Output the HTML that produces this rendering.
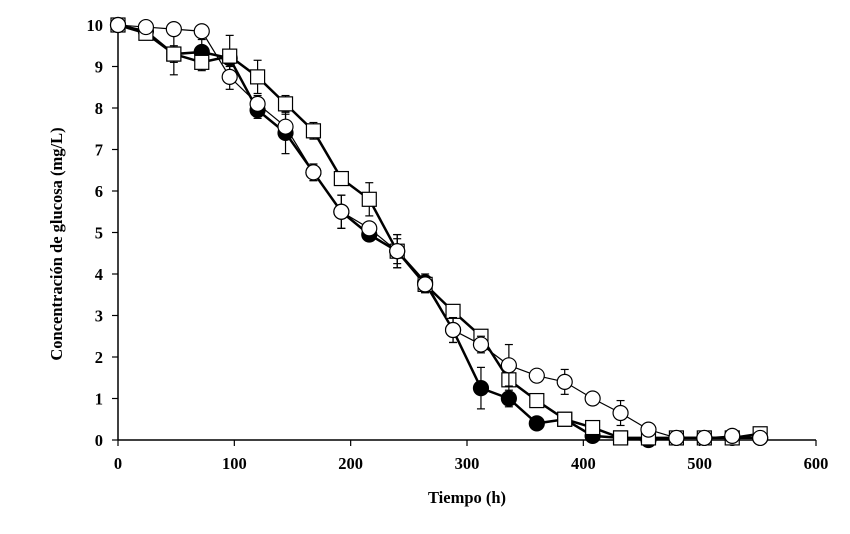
<!DOCTYPE html>
<html><head><meta charset="utf-8"><style>
body{margin:0;background:#fff}
svg text{font-family:"Liberation Serif",serif;font-weight:bold;font-size:16.5px;fill:#000}
</style></head><body>
<svg id="c" width="850" height="529"></svg>
<script>
const times=[0,24,48,72,96,120,144,168,192,216,240,264,288,312,336,360,384,408,432,456,480,504,528,552];
const filledCircle=[10,9.85,9.3,9.35,9.2,7.95,7.4,6.45,5.5,4.95,4.55,3.8,2.65,1.25,1.0,0.4,0.5,0.1,0.05,0.0,0.05,0.05,0.05,0.05];
const filledShapes=['c','c','s','c','c','c','c','c','c','c','c','c','c','c','c','c','s','c','s','c','c','c','c','c'];
const openCircle=[10,9.95,9.9,9.85,8.75,8.1,7.55,6.45,5.5,5.1,4.55,3.75,2.65,2.3,1.8,1.55,1.4,1.0,0.65,0.25,0.05,0.05,0.1,0.05];
const openSquare=[10,9.8,9.3,9.1,9.25,8.75,8.1,7.45,6.3,5.8,4.55,3.75,3.1,2.5,1.45,0.95,0.5,0.3,0.05,0.05,0.05,0.05,0.05,0.15];
const errFilled=[0,0.1,0.5,0.3,0.2,0.2,0.5,0.2,0.4,0.1,0.4,0.2,0.3,0.5,0.2,0.1,0.1,0.1,0.05,0.05,0,0,0,0];
const errOpenCircle=[0,0.1,0.1,0.1,0.3,0.2,0.3,0.2,0.4,0.1,0.3,0.2,0.3,0.2,0.5,0.1,0.3,0.1,0.3,0.1,0,0,0,0];
const errOpenSquare=[0,0.1,0.2,0.2,0.5,0.4,0.2,0.2,0.1,0.4,0.4,0.2,0.1,0.1,0.3,0.1,0.1,0.1,0,0,0,0,0,0];
const xTicks=[0,100,200,300,400,500,600];
const yTicks=[0,1,2,3,4,5,6,7,8,9,10];
const X=v=>118+v*(816-118)/600, Y=v=>440-v*41.5;
const s=document.getElementById('c'),NS='http://www.w3.org/2000/svg';
function el(t,a,p){const e=document.createElementNS(NS,t);for(const k in a)e.setAttribute(k,a[k]);(p||s).appendChild(e);return e;}
let e;
e=el('line',{x1:118,y1:440,x2:816,y2:440,stroke:'#000','stroke-width':1.5});


e=el('line',{x1:118,y1:25,x2:118,y2:440,stroke:'#000','stroke-width':1.5});


xTicks.forEach(t=>{el('line',{x1:X(t),y1:440,x2:X(t),y2:446,stroke:'#000','stroke-width':1.2});
 e=el('text',{x:X(t),y:469,'text-anchor':'middle'});e.textContent=t;
 
 });
yTicks.forEach(t=>{el('line',{x1:112,y1:Y(t),x2:118,y2:Y(t),stroke:'#000','stroke-width':1.2});
 e=el('text',{x:103,y:Y(t)+6,'text-anchor':'end'});e.textContent=t;
 
 });
e=el('text',{x:467,y:503,'text-anchor':'middle'});e.textContent='Tiempo (h)';


e=el('text',{x:0,y:0,'text-anchor':'middle',transform:'translate(62,244) rotate(-90)'});e.textContent='Concentración de glucosa (mg/L)';


function series(vals,errs,name,lw,shapes,fill){
 const g=el('g',{});
 
 
 el('polyline',{points:times.map((t,i)=>X(t)+','+Y(vals[i])).join(' '),fill:'none',stroke:'#000','stroke-width':lw},g);
 times.forEach((t,i)=>{const x=X(t),y=Y(vals[i]),d=errs[i]*41.5;
  if(d>2){el('line',{x1:x,y1:y-d,x2:x,y2:y+d,stroke:'#000','stroke-width':1.2},g);
   el('line',{x1:x-4,y1:y-d,x2:x+4,y2:y-d,stroke:'#000','stroke-width':1.2},g);
   el('line',{x1:x-4,y1:y+d,x2:x+4,y2:y+d,stroke:'#000','stroke-width':1.2},g);}
  const sh=typeof shapes==='string'?shapes:shapes[i];
  if(sh==='c')el('circle',{cx:x,cy:y,r:7.5,fill:fill,stroke:'#000','stroke-width':1.2},g);
  else el('rect',{x:x-7,y:y-7,width:14,height:14,fill:fill,stroke:'#000','stroke-width':1.2},g);});
}
series(filledCircle,errFilled,'series-filled',2.5,filledShapes,'#000');
series(openSquare,errOpenSquare,'series-open-square',2.5,'s','#fff');
series(openCircle,errOpenCircle,'series-open-circle',1.2,'c','#fff');
</script>
</body></html>
